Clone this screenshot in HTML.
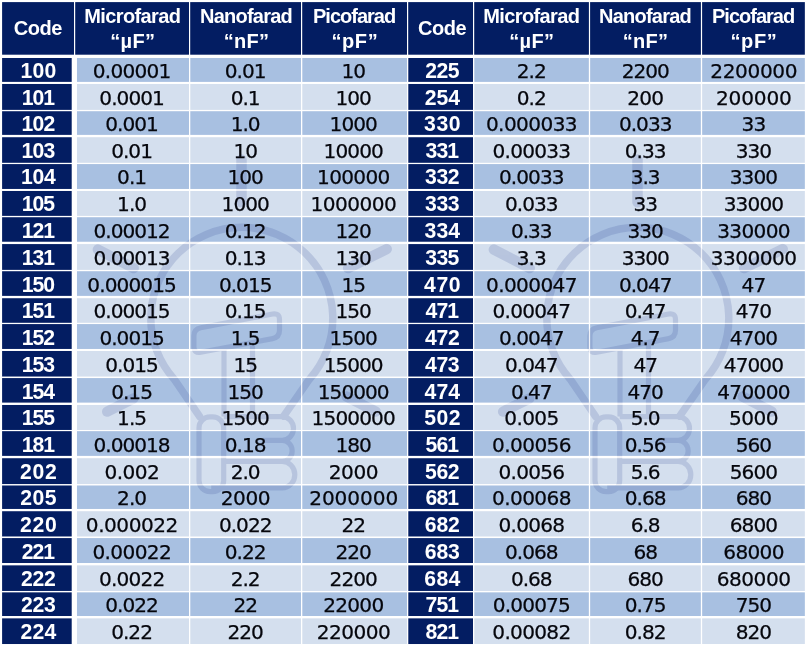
<!DOCTYPE html>
<html lang="en">
<head>
<meta charset="utf-8">
<title>Capacitor code conversion chart</title>
<style>
html,body{margin:0;padding:0;background:#fff;}
body{width:807px;height:646px;position:relative;overflow:hidden;font-family:"Liberation Sans",sans-serif;}
#bg{position:absolute;left:0;top:0;width:807px;height:646px;display:block;}
.t{position:absolute;text-align:center;white-space:nowrap;margin:0;padding:0;}
.h{color:#fff;font-weight:bold;font-size:20px;line-height:26px;}
.c{color:#fff;font-weight:bold;font-size:21.2px;line-height:26px;}
.d{color:#05060c;font-family:"DejaVu Sans","Liberation Sans",sans-serif;font-size:20.1px;line-height:26px;-webkit-text-stroke:0.25px #05060c;}
</style>
</head>
<body>

<svg id="bg" width="807" height="646" viewBox="0 0 807 646">
<rect x="0" y="0" width="807" height="646" fill="#ffffff"/>
<rect x="2.1" y="2.1" width="71.9" height="52.6" fill="#031d62"/>
<rect x="75.2" y="2.1" width="113.8" height="52.6" fill="#031d62"/>
<rect x="190.2" y="2.1" width="110.8" height="52.6" fill="#031d62"/>
<rect x="302.2" y="2.1" width="104.8" height="52.6" fill="#031d62"/>
<rect x="408.2" y="2.1" width="64.8" height="52.6" fill="#031d62"/>
<rect x="474.2" y="2.1" width="114.7" height="52.6" fill="#031d62"/>
<rect x="590.1" y="2.1" width="110.8" height="52.6" fill="#031d62"/>
<rect x="702.1" y="2.1" width="102.75" height="52.6" fill="#031d62"/>
<rect x="2.1" y="58" width="69.7" height="23.92" fill="#031d62"/>
<rect x="76.95" y="58" width="112.05" height="23.92" fill="#a8c0e1"/>
<rect x="190.2" y="58" width="110.8" height="23.92" fill="#a8c0e1"/>
<rect x="302.2" y="58" width="104.8" height="23.92" fill="#a8c0e1"/>
<rect x="408.2" y="58" width="64.8" height="23.92" fill="#031d62"/>
<rect x="474.2" y="58" width="114.7" height="23.92" fill="#a8c0e1"/>
<rect x="590.1" y="58" width="110.8" height="23.92" fill="#a8c0e1"/>
<rect x="702.1" y="58" width="102.75" height="23.92" fill="#a8c0e1"/>
<rect x="2.1" y="83.95" width="69.7" height="25.97" fill="#031d62"/>
<rect x="76.95" y="83.95" width="112.05" height="25.97" fill="#d4dfee"/>
<rect x="190.2" y="83.95" width="110.8" height="25.97" fill="#d4dfee"/>
<rect x="302.2" y="83.95" width="104.8" height="25.97" fill="#d4dfee"/>
<rect x="408.2" y="83.95" width="64.8" height="25.97" fill="#031d62"/>
<rect x="474.2" y="83.95" width="114.7" height="25.97" fill="#d4dfee"/>
<rect x="590.1" y="83.95" width="110.8" height="25.97" fill="#d4dfee"/>
<rect x="702.1" y="83.95" width="102.75" height="25.97" fill="#d4dfee"/>
<rect x="2.1" y="111.15" width="69.7" height="23.77" fill="#031d62"/>
<rect x="76.95" y="111.15" width="112.05" height="23.77" fill="#a8c0e1"/>
<rect x="190.2" y="111.15" width="110.8" height="23.77" fill="#a8c0e1"/>
<rect x="302.2" y="111.15" width="104.8" height="23.77" fill="#a8c0e1"/>
<rect x="408.2" y="111.15" width="64.8" height="23.77" fill="#031d62"/>
<rect x="474.2" y="111.15" width="114.7" height="23.77" fill="#a8c0e1"/>
<rect x="590.1" y="111.15" width="110.8" height="23.77" fill="#a8c0e1"/>
<rect x="702.1" y="111.15" width="102.75" height="23.77" fill="#a8c0e1"/>
<rect x="2.1" y="137.15" width="69.7" height="25.72" fill="#031d62"/>
<rect x="76.95" y="137.15" width="112.05" height="25.72" fill="#d4dfee"/>
<rect x="190.2" y="137.15" width="110.8" height="25.72" fill="#d4dfee"/>
<rect x="302.2" y="137.15" width="104.8" height="25.72" fill="#d4dfee"/>
<rect x="408.2" y="137.15" width="64.8" height="25.72" fill="#031d62"/>
<rect x="474.2" y="137.15" width="114.7" height="25.72" fill="#d4dfee"/>
<rect x="590.1" y="137.15" width="110.8" height="25.72" fill="#d4dfee"/>
<rect x="702.1" y="137.15" width="102.75" height="25.72" fill="#d4dfee"/>
<rect x="2.1" y="164.05" width="69.7" height="24.92" fill="#031d62"/>
<rect x="76.95" y="164.05" width="112.05" height="24.92" fill="#a8c0e1"/>
<rect x="190.2" y="164.05" width="110.8" height="24.92" fill="#a8c0e1"/>
<rect x="302.2" y="164.05" width="104.8" height="24.92" fill="#a8c0e1"/>
<rect x="408.2" y="164.05" width="64.8" height="24.92" fill="#031d62"/>
<rect x="474.2" y="164.05" width="114.7" height="24.92" fill="#a8c0e1"/>
<rect x="590.1" y="164.05" width="110.8" height="24.92" fill="#a8c0e1"/>
<rect x="702.1" y="164.05" width="102.75" height="24.92" fill="#a8c0e1"/>
<rect x="2.1" y="190.95" width="69.7" height="24.97" fill="#031d62"/>
<rect x="76.95" y="190.95" width="112.05" height="24.97" fill="#d4dfee"/>
<rect x="190.2" y="190.95" width="110.8" height="24.97" fill="#d4dfee"/>
<rect x="302.2" y="190.95" width="104.8" height="24.97" fill="#d4dfee"/>
<rect x="408.2" y="190.95" width="64.8" height="24.97" fill="#031d62"/>
<rect x="474.2" y="190.95" width="114.7" height="24.97" fill="#d4dfee"/>
<rect x="590.1" y="190.95" width="110.8" height="24.97" fill="#d4dfee"/>
<rect x="702.1" y="190.95" width="102.75" height="24.97" fill="#d4dfee"/>
<rect x="2.1" y="217.15" width="69.7" height="24.67" fill="#031d62"/>
<rect x="76.95" y="217.15" width="112.05" height="24.67" fill="#a8c0e1"/>
<rect x="190.2" y="217.15" width="110.8" height="24.67" fill="#a8c0e1"/>
<rect x="302.2" y="217.15" width="104.8" height="24.67" fill="#a8c0e1"/>
<rect x="408.2" y="217.15" width="64.8" height="24.67" fill="#031d62"/>
<rect x="474.2" y="217.15" width="114.7" height="24.67" fill="#a8c0e1"/>
<rect x="590.1" y="217.15" width="110.8" height="24.67" fill="#a8c0e1"/>
<rect x="702.1" y="217.15" width="102.75" height="24.67" fill="#a8c0e1"/>
<rect x="2.1" y="244.05" width="69.7" height="25.87" fill="#031d62"/>
<rect x="76.95" y="244.05" width="112.05" height="25.87" fill="#d4dfee"/>
<rect x="190.2" y="244.05" width="110.8" height="25.87" fill="#d4dfee"/>
<rect x="302.2" y="244.05" width="104.8" height="25.87" fill="#d4dfee"/>
<rect x="408.2" y="244.05" width="64.8" height="25.87" fill="#031d62"/>
<rect x="474.2" y="244.05" width="114.7" height="25.87" fill="#d4dfee"/>
<rect x="590.1" y="244.05" width="110.8" height="25.87" fill="#d4dfee"/>
<rect x="702.1" y="244.05" width="102.75" height="25.87" fill="#d4dfee"/>
<rect x="2.1" y="271.15" width="69.7" height="24.77" fill="#031d62"/>
<rect x="76.95" y="271.15" width="112.05" height="24.77" fill="#a8c0e1"/>
<rect x="190.2" y="271.15" width="110.8" height="24.77" fill="#a8c0e1"/>
<rect x="302.2" y="271.15" width="104.8" height="24.77" fill="#a8c0e1"/>
<rect x="408.2" y="271.15" width="64.8" height="24.77" fill="#031d62"/>
<rect x="474.2" y="271.15" width="114.7" height="24.77" fill="#a8c0e1"/>
<rect x="590.1" y="271.15" width="110.8" height="24.77" fill="#a8c0e1"/>
<rect x="702.1" y="271.15" width="102.75" height="24.77" fill="#a8c0e1"/>
<rect x="2.1" y="298.15" width="69.7" height="24.72" fill="#031d62"/>
<rect x="76.95" y="298.15" width="112.05" height="24.72" fill="#d4dfee"/>
<rect x="190.2" y="298.15" width="110.8" height="24.72" fill="#d4dfee"/>
<rect x="302.2" y="298.15" width="104.8" height="24.72" fill="#d4dfee"/>
<rect x="408.2" y="298.15" width="64.8" height="24.72" fill="#031d62"/>
<rect x="474.2" y="298.15" width="114.7" height="24.72" fill="#d4dfee"/>
<rect x="590.1" y="298.15" width="110.8" height="24.72" fill="#d4dfee"/>
<rect x="702.1" y="298.15" width="102.75" height="24.72" fill="#d4dfee"/>
<rect x="2.1" y="324.05" width="69.7" height="24.92" fill="#031d62"/>
<rect x="76.95" y="324.05" width="112.05" height="24.92" fill="#a8c0e1"/>
<rect x="190.2" y="324.05" width="110.8" height="24.92" fill="#a8c0e1"/>
<rect x="302.2" y="324.05" width="104.8" height="24.92" fill="#a8c0e1"/>
<rect x="408.2" y="324.05" width="64.8" height="24.92" fill="#031d62"/>
<rect x="474.2" y="324.05" width="114.7" height="24.92" fill="#a8c0e1"/>
<rect x="590.1" y="324.05" width="110.8" height="24.92" fill="#a8c0e1"/>
<rect x="702.1" y="324.05" width="102.75" height="24.92" fill="#a8c0e1"/>
<rect x="2.1" y="350.95" width="69.7" height="25.72" fill="#031d62"/>
<rect x="76.95" y="350.95" width="112.05" height="25.72" fill="#d4dfee"/>
<rect x="190.2" y="350.95" width="110.8" height="25.72" fill="#d4dfee"/>
<rect x="302.2" y="350.95" width="104.8" height="25.72" fill="#d4dfee"/>
<rect x="408.2" y="350.95" width="64.8" height="25.72" fill="#031d62"/>
<rect x="474.2" y="350.95" width="114.7" height="25.72" fill="#d4dfee"/>
<rect x="590.1" y="350.95" width="110.8" height="25.72" fill="#d4dfee"/>
<rect x="702.1" y="350.95" width="102.75" height="25.72" fill="#d4dfee"/>
<rect x="2.1" y="378.05" width="69.7" height="24.67" fill="#031d62"/>
<rect x="76.95" y="378.05" width="112.05" height="24.67" fill="#a8c0e1"/>
<rect x="190.2" y="378.05" width="110.8" height="24.67" fill="#a8c0e1"/>
<rect x="302.2" y="378.05" width="104.8" height="24.67" fill="#a8c0e1"/>
<rect x="408.2" y="378.05" width="64.8" height="24.67" fill="#031d62"/>
<rect x="474.2" y="378.05" width="114.7" height="24.67" fill="#a8c0e1"/>
<rect x="590.1" y="378.05" width="110.8" height="24.67" fill="#a8c0e1"/>
<rect x="702.1" y="378.05" width="102.75" height="24.67" fill="#a8c0e1"/>
<rect x="2.1" y="404.95" width="69.7" height="25.02" fill="#031d62"/>
<rect x="76.95" y="404.95" width="112.05" height="25.02" fill="#d4dfee"/>
<rect x="190.2" y="404.95" width="110.8" height="25.02" fill="#d4dfee"/>
<rect x="302.2" y="404.95" width="104.8" height="25.02" fill="#d4dfee"/>
<rect x="408.2" y="404.95" width="64.8" height="25.02" fill="#031d62"/>
<rect x="474.2" y="404.95" width="114.7" height="25.02" fill="#d4dfee"/>
<rect x="590.1" y="404.95" width="110.8" height="25.02" fill="#d4dfee"/>
<rect x="702.1" y="404.95" width="102.75" height="25.02" fill="#d4dfee"/>
<rect x="2.1" y="431.1" width="69.7" height="24.82" fill="#031d62"/>
<rect x="76.95" y="431.1" width="112.05" height="24.82" fill="#a8c0e1"/>
<rect x="190.2" y="431.1" width="110.8" height="24.82" fill="#a8c0e1"/>
<rect x="302.2" y="431.1" width="104.8" height="24.82" fill="#a8c0e1"/>
<rect x="408.2" y="431.1" width="64.8" height="24.82" fill="#031d62"/>
<rect x="474.2" y="431.1" width="114.7" height="24.82" fill="#a8c0e1"/>
<rect x="590.1" y="431.1" width="110.8" height="24.82" fill="#a8c0e1"/>
<rect x="702.1" y="431.1" width="102.75" height="24.82" fill="#a8c0e1"/>
<rect x="2.1" y="458.15" width="69.7" height="25.97" fill="#031d62"/>
<rect x="76.95" y="458.15" width="112.05" height="25.97" fill="#d4dfee"/>
<rect x="190.2" y="458.15" width="110.8" height="25.97" fill="#d4dfee"/>
<rect x="302.2" y="458.15" width="104.8" height="25.97" fill="#d4dfee"/>
<rect x="408.2" y="458.15" width="64.8" height="25.97" fill="#031d62"/>
<rect x="474.2" y="458.15" width="114.7" height="25.97" fill="#d4dfee"/>
<rect x="590.1" y="458.15" width="110.8" height="25.97" fill="#d4dfee"/>
<rect x="702.1" y="458.15" width="102.75" height="25.97" fill="#d4dfee"/>
<rect x="2.1" y="485.35" width="69.7" height="23.62" fill="#031d62"/>
<rect x="76.95" y="485.35" width="112.05" height="23.62" fill="#a8c0e1"/>
<rect x="190.2" y="485.35" width="110.8" height="23.62" fill="#a8c0e1"/>
<rect x="302.2" y="485.35" width="104.8" height="23.62" fill="#a8c0e1"/>
<rect x="408.2" y="485.35" width="64.8" height="23.62" fill="#031d62"/>
<rect x="474.2" y="485.35" width="114.7" height="23.62" fill="#a8c0e1"/>
<rect x="590.1" y="485.35" width="110.8" height="23.62" fill="#a8c0e1"/>
<rect x="702.1" y="485.35" width="102.75" height="23.62" fill="#a8c0e1"/>
<rect x="2.1" y="511.15" width="69.7" height="25.47" fill="#031d62"/>
<rect x="76.95" y="511.15" width="112.05" height="25.47" fill="#d4dfee"/>
<rect x="190.2" y="511.15" width="110.8" height="25.47" fill="#d4dfee"/>
<rect x="302.2" y="511.15" width="104.8" height="25.47" fill="#d4dfee"/>
<rect x="408.2" y="511.15" width="64.8" height="25.47" fill="#031d62"/>
<rect x="474.2" y="511.15" width="114.7" height="25.47" fill="#d4dfee"/>
<rect x="590.1" y="511.15" width="110.8" height="25.47" fill="#d4dfee"/>
<rect x="702.1" y="511.15" width="102.75" height="25.47" fill="#d4dfee"/>
<rect x="2.1" y="538.05" width="69.7" height="24.97" fill="#031d62"/>
<rect x="76.95" y="538.05" width="112.05" height="24.97" fill="#a8c0e1"/>
<rect x="190.2" y="538.05" width="110.8" height="24.97" fill="#a8c0e1"/>
<rect x="302.2" y="538.05" width="104.8" height="24.97" fill="#a8c0e1"/>
<rect x="408.2" y="538.05" width="64.8" height="24.97" fill="#031d62"/>
<rect x="474.2" y="538.05" width="114.7" height="24.97" fill="#a8c0e1"/>
<rect x="590.1" y="538.05" width="110.8" height="24.97" fill="#a8c0e1"/>
<rect x="702.1" y="538.05" width="102.75" height="24.97" fill="#a8c0e1"/>
<rect x="2.1" y="565.25" width="69.7" height="25.72" fill="#031d62"/>
<rect x="76.95" y="565.25" width="112.05" height="25.72" fill="#d4dfee"/>
<rect x="190.2" y="565.25" width="110.8" height="25.72" fill="#d4dfee"/>
<rect x="302.2" y="565.25" width="104.8" height="25.72" fill="#d4dfee"/>
<rect x="408.2" y="565.25" width="64.8" height="25.72" fill="#031d62"/>
<rect x="474.2" y="565.25" width="114.7" height="25.72" fill="#d4dfee"/>
<rect x="590.1" y="565.25" width="110.8" height="25.72" fill="#d4dfee"/>
<rect x="702.1" y="565.25" width="102.75" height="25.72" fill="#d4dfee"/>
<rect x="2.1" y="592.25" width="69.7" height="23.77" fill="#031d62"/>
<rect x="76.95" y="592.25" width="112.05" height="23.77" fill="#a8c0e1"/>
<rect x="190.2" y="592.25" width="110.8" height="23.77" fill="#a8c0e1"/>
<rect x="302.2" y="592.25" width="104.8" height="23.77" fill="#a8c0e1"/>
<rect x="408.2" y="592.25" width="64.8" height="23.77" fill="#031d62"/>
<rect x="474.2" y="592.25" width="114.7" height="23.77" fill="#a8c0e1"/>
<rect x="590.1" y="592.25" width="110.8" height="23.77" fill="#a8c0e1"/>
<rect x="702.1" y="592.25" width="102.75" height="23.77" fill="#a8c0e1"/>
<rect x="2.1" y="618.25" width="69.7" height="25.77" fill="#031d62"/>
<rect x="76.95" y="618.25" width="112.05" height="25.77" fill="#d4dfee"/>
<rect x="190.2" y="618.25" width="110.8" height="25.77" fill="#d4dfee"/>
<rect x="302.2" y="618.25" width="104.8" height="25.77" fill="#d4dfee"/>
<rect x="408.2" y="618.25" width="64.8" height="25.77" fill="#031d62"/>
<rect x="474.2" y="618.25" width="114.7" height="25.77" fill="#d4dfee"/>
<rect x="590.1" y="618.25" width="110.8" height="25.77" fill="#d4dfee"/>
<rect x="702.1" y="618.25" width="102.75" height="25.77" fill="#d4dfee"/>
<g fill="none" stroke="#283f8e" opacity="0.16">
<path d="M199.7 416.6 L174.17 379.19 A91 91 0 1 1 309.43 379.19 L283.7 416.1" fill="none" stroke-width="7.5" stroke-linejoin="round" stroke-linecap="round"/>
<line x1="241.5" y1="159.6" x2="241.5" y2="202.2" stroke-width="10.5" stroke-linecap="round"/>
<line x1="97.9" y1="249.6" x2="133.7" y2="268.1" stroke-width="10.5" stroke-linecap="round"/>
<line x1="386.7" y1="249.1" x2="348.2" y2="268.1" stroke-width="10.5" stroke-linecap="round"/>
<line x1="107.2" y1="411.6" x2="133.2" y2="398.6" stroke-width="10.5" stroke-linecap="round"/>
<line x1="375.7" y1="411.6" x2="346.7" y2="396.6" stroke-width="10.5" stroke-linecap="round"/>
<path d="M193.9 336Q193.9 329 200.78 327.69L272.62 314.01Q279.5 312.7 279.5 319.7L279.5 330.3Q279.5 337.3 272.62 338.61L200.78 352.29Q193.9 353.6 193.9 346.6Z" fill="none" stroke-width="5.2"/>
<path d="M224 349.1 V416.6 M252.5 343.6 V416.6" fill="none" stroke-width="5.2"/>
<rect x="199" y="416.9" width="24.7" height="74.7" rx="11" ry="11" fill="none" stroke-width="5.2"/>
<path d="M223.7 416.6 H282.2 A11.31 11.9 0 0 1 282.2 440.4 A9.97 10.5 0 0 1 282.2 461.4 A12.59 13.25 0 0 1 282.2 487.9 H211.2 M263.2 440.4 H282.2 M223.7 461.4 H282.2" fill="none" stroke-width="5.2" stroke-linejoin="round"/>
</g>
<g fill="none" stroke="#283f8e" opacity="0.16" transform="translate(396 0)">
<path d="M199.7 416.6 L174.17 379.19 A91 91 0 1 1 309.43 379.19 L283.7 416.1" fill="none" stroke-width="7.5" stroke-linejoin="round" stroke-linecap="round"/>
<line x1="241.5" y1="159.6" x2="241.5" y2="202.2" stroke-width="10.5" stroke-linecap="round"/>
<line x1="97.9" y1="249.6" x2="133.7" y2="268.1" stroke-width="10.5" stroke-linecap="round"/>
<line x1="386.7" y1="249.1" x2="348.2" y2="268.1" stroke-width="10.5" stroke-linecap="round"/>
<line x1="107.2" y1="411.6" x2="133.2" y2="398.6" stroke-width="10.5" stroke-linecap="round"/>
<line x1="375.7" y1="411.6" x2="346.7" y2="396.6" stroke-width="10.5" stroke-linecap="round"/>
<path d="M193.9 336Q193.9 329 200.78 327.69L272.62 314.01Q279.5 312.7 279.5 319.7L279.5 330.3Q279.5 337.3 272.62 338.61L200.78 352.29Q193.9 353.6 193.9 346.6Z" fill="none" stroke-width="5.2"/>
<path d="M224 349.1 V416.6 M252.5 343.6 V416.6" fill="none" stroke-width="5.2"/>
<rect x="199" y="416.9" width="24.7" height="74.7" rx="11" ry="11" fill="none" stroke-width="5.2"/>
<path d="M223.7 416.6 H282.2 A11.31 11.9 0 0 1 282.2 440.4 A9.97 10.5 0 0 1 282.2 461.4 A12.59 13.25 0 0 1 282.2 487.9 H211.2 M263.2 440.4 H282.2 M223.7 461.4 H282.2" fill="none" stroke-width="5.2" stroke-linejoin="round"/>
</g>
<rect x="0" y="81.92" width="807" height="2.03" fill="#ffffff" opacity="0.6"/>
<rect x="0" y="109.92" width="807" height="1.23" fill="#ffffff" opacity="0.6"/>
<rect x="0" y="134.92" width="807" height="2.23" fill="#ffffff" opacity="0.6"/>
<rect x="0" y="162.87" width="807" height="1.18" fill="#ffffff" opacity="0.6"/>
<rect x="0" y="188.97" width="807" height="1.98" fill="#ffffff" opacity="0.6"/>
<rect x="0" y="215.92" width="807" height="1.23" fill="#ffffff" opacity="0.6"/>
<rect x="0" y="241.82" width="807" height="2.23" fill="#ffffff" opacity="0.6"/>
<rect x="0" y="269.92" width="807" height="1.23" fill="#ffffff" opacity="0.6"/>
<rect x="0" y="295.92" width="807" height="2.23" fill="#ffffff" opacity="0.6"/>
<rect x="0" y="322.87" width="807" height="1.18" fill="#ffffff" opacity="0.6"/>
<rect x="0" y="348.97" width="807" height="1.98" fill="#ffffff" opacity="0.6"/>
<rect x="0" y="376.67" width="807" height="1.38" fill="#ffffff" opacity="0.6"/>
<rect x="0" y="402.72" width="807" height="2.23" fill="#ffffff" opacity="0.6"/>
<rect x="0" y="429.97" width="807" height="1.13" fill="#ffffff" opacity="0.6"/>
<rect x="0" y="455.92" width="807" height="2.23" fill="#ffffff" opacity="0.6"/>
<rect x="0" y="484.12" width="807" height="1.23" fill="#ffffff" opacity="0.6"/>
<rect x="0" y="508.97" width="807" height="2.18" fill="#ffffff" opacity="0.6"/>
<rect x="0" y="536.62" width="807" height="1.43" fill="#ffffff" opacity="0.6"/>
<rect x="0" y="563.02" width="807" height="2.23" fill="#ffffff" opacity="0.6"/>
<rect x="0" y="590.97" width="807" height="1.28" fill="#ffffff" opacity="0.6"/>
<rect x="0" y="616.02" width="807" height="2.23" fill="#ffffff" opacity="0.6"/>
<rect x="71.8" y="55" width="5.15" height="591" fill="#ffffff" opacity="0.6"/>
<rect x="189" y="55" width="1.2" height="591" fill="#ffffff" opacity="0.6"/>
<rect x="301" y="55" width="1.2" height="591" fill="#ffffff" opacity="0.6"/>
<rect x="407" y="55" width="1.2" height="591" fill="#ffffff" opacity="0.6"/>
<rect x="473" y="55" width="1.2" height="591" fill="#ffffff" opacity="0.6"/>
<rect x="588.9" y="55" width="1.2" height="591" fill="#ffffff" opacity="0.6"/>
<rect x="700.9" y="55" width="1.2" height="591" fill="#ffffff" opacity="0.6"/>
</svg>


<div class="head">
<div class="t h" style="left:2.1px;top:15px;width:71.8px;letter-spacing:-0.47px;text-indent:-0.47px">Code</div>
<div class="t h" style="left:76.3px;top:3px;width:112.7px;letter-spacing:-0.62px;text-indent:-0.62px">Microfarad</div>
<div class="t h" style="left:76.3px;top:28px;width:112.7px;letter-spacing:0.33px;text-indent:0.33px">“µF”</div>
<div class="t h" style="left:191.8px;top:3px;width:109.2px;letter-spacing:-0.76px;text-indent:-0.76px">Nanofarad</div>
<div class="t h" style="left:191.8px;top:28px;width:109.2px;letter-spacing:0.23px;text-indent:0.23px">“nF”</div>
<div class="t h" style="left:302.2px;top:3px;width:104.8px;letter-spacing:-0.99px;text-indent:-0.99px">Picofarad</div>
<div class="t h" style="left:302.2px;top:28px;width:104.8px;letter-spacing:0.6px;text-indent:0.6px">“pF”</div>
<div class="t h" style="left:411.5px;top:15px;width:61.5px;letter-spacing:-0.47px;text-indent:-0.47px">Code</div>
<div class="t h" style="left:474.3px;top:3px;width:114.6px;letter-spacing:-0.62px;text-indent:-0.62px">Microfarad</div>
<div class="t h" style="left:474.3px;top:28px;width:114.6px;letter-spacing:0.33px;text-indent:0.33px">“µF”</div>
<div class="t h" style="left:590.1px;top:3px;width:110.6px;letter-spacing:-0.76px;text-indent:-0.76px">Nanofarad</div>
<div class="t h" style="left:590.1px;top:28px;width:110.6px;letter-spacing:0.23px;text-indent:0.23px">“nF”</div>
<div class="t h" style="left:702.35px;top:3px;width:102.5px;letter-spacing:-0.99px;text-indent:-0.99px">Picofarad</div>
<div class="t h" style="left:702.35px;top:28px;width:102.5px;letter-spacing:0.6px;text-indent:0.6px">“pF”</div>
</div>
<div class="row">
<div class="t c" style="left:2.8px;top:58px;width:71.2px;letter-spacing:0.25px;text-indent:0.25px">100</div>
<div class="t d" style="left:75.2px;top:58px;width:113.8px;letter-spacing:-0.74px;text-indent:-0.74px">0.00001</div>
<div class="t d" style="left:190.4px;top:58px;width:110.6px;letter-spacing:-1px;text-indent:-1px">0.01</div>
<div class="t d" style="left:302.2px;top:58px;width:103px;letter-spacing:-1px;text-indent:-1px">10</div>
<div class="t c" style="left:411.6px;top:58px;width:61.4px;letter-spacing:-0.52px;text-indent:-0.52px">225</div>
<div class="t d" style="left:474.7px;top:58px;width:114.2px;letter-spacing:-1px;text-indent:-1px">2.2</div>
<div class="t d" style="left:590.5px;top:58px;width:110.4px;letter-spacing:-1px;text-indent:-1px">2200</div>
<div class="t d" style="left:702.95px;top:58px;width:101.9px;letter-spacing:-0.39px;text-indent:-0.39px">2200000</div>
</div>
<div class="row">
<div class="t c" style="left:2.8px;top:85px;width:71.2px;letter-spacing:-1px;text-indent:-1px">101</div>
<div class="t d" style="left:75.2px;top:85px;width:113.8px;letter-spacing:-0.94px;text-indent:-0.94px">0.0001</div>
<div class="t d" style="left:190.4px;top:85px;width:110.6px;letter-spacing:-1px;text-indent:-1px">0.1</div>
<div class="t d" style="left:302.2px;top:85px;width:103px;letter-spacing:-1px;text-indent:-1px">100</div>
<div class="t c" style="left:411.6px;top:85px;width:61.4px;letter-spacing:-0.04px;text-indent:-0.04px">254</div>
<div class="t d" style="left:474.7px;top:85px;width:114.2px;letter-spacing:-1px;text-indent:-1px">0.2</div>
<div class="t d" style="left:590.5px;top:85px;width:110.4px;letter-spacing:-0.75px;text-indent:-0.75px">200</div>
<div class="t d" style="left:702.95px;top:85px;width:101.9px;letter-spacing:-0.14px;text-indent:-0.14px">200000</div>
</div>
<div class="row">
<div class="t c" style="left:2.8px;top:111px;width:71.2px;letter-spacing:-0.74px;text-indent:-0.74px">102</div>
<div class="t d" style="left:75.2px;top:111px;width:113.8px;letter-spacing:-1px;text-indent:-1px">0.001</div>
<div class="t d" style="left:190.4px;top:111px;width:110.6px;letter-spacing:-1px;text-indent:-1px">1.0</div>
<div class="t d" style="left:302.2px;top:111px;width:103px;letter-spacing:-1px;text-indent:-1px">1000</div>
<div class="t c" style="left:411.6px;top:111px;width:61.4px;letter-spacing:0.65px;text-indent:0.65px">330</div>
<div class="t d" style="left:474.7px;top:111px;width:114.2px;letter-spacing:-0.59px;text-indent:-0.59px">0.000033</div>
<div class="t d" style="left:590.5px;top:111px;width:110.4px;letter-spacing:-1px;text-indent:-1px">0.033</div>
<div class="t d" style="left:702.95px;top:111px;width:101.9px;letter-spacing:-1px;text-indent:-1px">33</div>
</div>
<div class="row">
<div class="t c" style="left:2.8px;top:138px;width:71.2px;letter-spacing:-0.75px;text-indent:-0.75px">103</div>
<div class="t d" style="left:75.2px;top:138px;width:113.8px;letter-spacing:-1px;text-indent:-1px">0.01</div>
<div class="t d" style="left:190.4px;top:138px;width:110.6px;letter-spacing:-1px;text-indent:-1px">10</div>
<div class="t d" style="left:302.2px;top:138px;width:103px;letter-spacing:-0.91px;text-indent:-0.91px">10000</div>
<div class="t c" style="left:411.6px;top:138px;width:61.4px;letter-spacing:-1px;text-indent:-1px">331</div>
<div class="t d" style="left:474.7px;top:138px;width:114.2px;letter-spacing:-0.73px;text-indent:-0.73px">0.00033</div>
<div class="t d" style="left:590.5px;top:138px;width:110.4px;letter-spacing:-1px;text-indent:-1px">0.33</div>
<div class="t d" style="left:702.95px;top:138px;width:101.9px;letter-spacing:-1px;text-indent:-1px">330</div>
</div>
<div class="row">
<div class="t c" style="left:2.8px;top:164px;width:71.2px;letter-spacing:-0.25px;text-indent:-0.25px">104</div>
<div class="t d" style="left:75.2px;top:164px;width:113.8px;letter-spacing:-1px;text-indent:-1px">0.1</div>
<div class="t d" style="left:190.4px;top:164px;width:110.6px;letter-spacing:-1px;text-indent:-1px">100</div>
<div class="t d" style="left:302.2px;top:164px;width:103px;letter-spacing:-0.67px;text-indent:-0.67px">100000</div>
<div class="t c" style="left:411.6px;top:164px;width:61.4px;letter-spacing:-0.34px;text-indent:-0.34px">332</div>
<div class="t d" style="left:474.7px;top:164px;width:114.2px;letter-spacing:-0.93px;text-indent:-0.93px">0.0033</div>
<div class="t d" style="left:590.5px;top:164px;width:110.4px;letter-spacing:-1px;text-indent:-1px">3.3</div>
<div class="t d" style="left:702.95px;top:164px;width:101.9px;letter-spacing:-1px;text-indent:-1px">3300</div>
</div>
<div class="row">
<div class="t c" style="left:2.8px;top:191px;width:71.2px;letter-spacing:-0.95px;text-indent:-0.95px">105</div>
<div class="t d" style="left:75.2px;top:191px;width:113.8px;letter-spacing:-1px;text-indent:-1px">1.0</div>
<div class="t d" style="left:190.4px;top:191px;width:110.6px;letter-spacing:-1px;text-indent:-1px">1000</div>
<div class="t d" style="left:302.2px;top:191px;width:103px;letter-spacing:-0.52px;text-indent:-0.52px">1000000</div>
<div class="t c" style="left:411.6px;top:191px;width:61.4px;letter-spacing:-0.35px;text-indent:-0.35px">333</div>
<div class="t d" style="left:474.7px;top:191px;width:114.2px;letter-spacing:-1px;text-indent:-1px">0.033</div>
<div class="t d" style="left:590.5px;top:191px;width:110.4px;letter-spacing:-1px;text-indent:-1px">33</div>
<div class="t d" style="left:702.95px;top:191px;width:101.9px;letter-spacing:-0.89px;text-indent:-0.89px">33000</div>
</div>
<div class="row">
<div class="t c" style="left:2.8px;top:218px;width:71.2px;letter-spacing:-1px;text-indent:-1px">121</div>
<div class="t d" style="left:75.2px;top:218px;width:113.8px;letter-spacing:-1px;text-indent:-1px">0.00012</div>
<div class="t d" style="left:190.4px;top:218px;width:110.6px;letter-spacing:-1px;text-indent:-1px">0.12</div>
<div class="t d" style="left:302.2px;top:218px;width:103px;letter-spacing:-1px;text-indent:-1px">120</div>
<div class="t c" style="left:411.6px;top:218px;width:61.4px;letter-spacing:0.15px;text-indent:0.15px">334</div>
<div class="t d" style="left:474.7px;top:218px;width:114.2px;letter-spacing:-1px;text-indent:-1px">0.33</div>
<div class="t d" style="left:590.5px;top:218px;width:110.4px;letter-spacing:-1px;text-indent:-1px">330</div>
<div class="t d" style="left:702.95px;top:218px;width:101.9px;letter-spacing:-0.66px;text-indent:-0.66px">330000</div>
</div>
<div class="row">
<div class="t c" style="left:2.8px;top:245px;width:71.2px;letter-spacing:-1px;text-indent:-1px">131</div>
<div class="t d" style="left:75.2px;top:245px;width:113.8px;letter-spacing:-1px;text-indent:-1px">0.00013</div>
<div class="t d" style="left:190.4px;top:245px;width:110.6px;letter-spacing:-1px;text-indent:-1px">0.13</div>
<div class="t d" style="left:302.2px;top:245px;width:103px;letter-spacing:-1px;text-indent:-1px">130</div>
<div class="t c" style="left:411.6px;top:245px;width:61.4px;letter-spacing:-0.55px;text-indent:-0.55px">335</div>
<div class="t d" style="left:474.7px;top:245px;width:114.2px;letter-spacing:-1px;text-indent:-1px">3.3</div>
<div class="t d" style="left:590.5px;top:245px;width:110.4px;letter-spacing:-1px;text-indent:-1px">3300</div>
<div class="t d" style="left:702.95px;top:245px;width:101.9px;letter-spacing:-0.51px;text-indent:-0.51px">3300000</div>
</div>
<div class="row">
<div class="t c" style="left:2.8px;top:272px;width:71.2px;letter-spacing:-0.95px;text-indent:-0.95px">150</div>
<div class="t d" style="left:75.2px;top:272px;width:113.8px;letter-spacing:-0.92px;text-indent:-0.92px">0.000015</div>
<div class="t d" style="left:190.4px;top:272px;width:110.6px;letter-spacing:-1px;text-indent:-1px">0.015</div>
<div class="t d" style="left:302.2px;top:272px;width:103px;letter-spacing:-1px;text-indent:-1px">15</div>
<div class="t c" style="left:411.6px;top:272px;width:61.4px;letter-spacing:0.7px;text-indent:0.7px">470</div>
<div class="t d" style="left:474.7px;top:272px;width:114.2px;letter-spacing:-0.61px;text-indent:-0.61px">0.000047</div>
<div class="t d" style="left:590.5px;top:272px;width:110.4px;letter-spacing:-1px;text-indent:-1px">0.047</div>
<div class="t d" style="left:702.95px;top:272px;width:101.9px;letter-spacing:-1px;text-indent:-1px">47</div>
</div>
<div class="row">
<div class="t c" style="left:2.8px;top:298px;width:71.2px;letter-spacing:-1px;text-indent:-1px">151</div>
<div class="t d" style="left:75.2px;top:298px;width:113.8px;letter-spacing:-1px;text-indent:-1px">0.00015</div>
<div class="t d" style="left:190.4px;top:298px;width:110.6px;letter-spacing:-1px;text-indent:-1px">0.15</div>
<div class="t d" style="left:302.2px;top:298px;width:103px;letter-spacing:-1px;text-indent:-1px">150</div>
<div class="t c" style="left:411.6px;top:298px;width:61.4px;letter-spacing:-1px;text-indent:-1px">471</div>
<div class="t d" style="left:474.7px;top:298px;width:114.2px;letter-spacing:-0.75px;text-indent:-0.75px">0.00047</div>
<div class="t d" style="left:590.5px;top:298px;width:110.4px;letter-spacing:-1px;text-indent:-1px">0.47</div>
<div class="t d" style="left:702.95px;top:298px;width:101.9px;letter-spacing:-1px;text-indent:-1px">470</div>
</div>
<div class="row">
<div class="t c" style="left:2.8px;top:325px;width:71.2px;letter-spacing:-1px;text-indent:-1px">152</div>
<div class="t d" style="left:75.2px;top:325px;width:113.8px;letter-spacing:-1px;text-indent:-1px">0.0015</div>
<div class="t d" style="left:190.4px;top:325px;width:110.6px;letter-spacing:-1px;text-indent:-1px">1.5</div>
<div class="t d" style="left:302.2px;top:325px;width:103px;letter-spacing:-1px;text-indent:-1px">1500</div>
<div class="t c" style="left:411.6px;top:325px;width:61.4px;letter-spacing:-0.29px;text-indent:-0.29px">472</div>
<div class="t d" style="left:474.7px;top:325px;width:114.2px;letter-spacing:-0.95px;text-indent:-0.95px">0.0047</div>
<div class="t d" style="left:590.5px;top:325px;width:110.4px;letter-spacing:-1px;text-indent:-1px">4.7</div>
<div class="t d" style="left:702.95px;top:325px;width:101.9px;letter-spacing:-1px;text-indent:-1px">4700</div>
</div>
<div class="row">
<div class="t c" style="left:2.8px;top:352px;width:71.2px;letter-spacing:-1px;text-indent:-1px">153</div>
<div class="t d" style="left:75.2px;top:352px;width:113.8px;letter-spacing:-1px;text-indent:-1px">0.015</div>
<div class="t d" style="left:190.4px;top:352px;width:110.6px;letter-spacing:-1px;text-indent:-1px">15</div>
<div class="t d" style="left:302.2px;top:352px;width:103px;letter-spacing:-1px;text-indent:-1px">15000</div>
<div class="t c" style="left:411.6px;top:352px;width:61.4px;letter-spacing:-0.3px;text-indent:-0.3px">473</div>
<div class="t d" style="left:474.7px;top:352px;width:114.2px;letter-spacing:-1px;text-indent:-1px">0.047</div>
<div class="t d" style="left:590.5px;top:352px;width:110.4px;letter-spacing:-1px;text-indent:-1px">47</div>
<div class="t d" style="left:702.95px;top:352px;width:101.9px;letter-spacing:-0.92px;text-indent:-0.92px">47000</div>
</div>
<div class="row">
<div class="t c" style="left:2.8px;top:379px;width:71.2px;letter-spacing:-1px;text-indent:-1px">154</div>
<div class="t d" style="left:75.2px;top:379px;width:113.8px;letter-spacing:-1px;text-indent:-1px">0.15</div>
<div class="t d" style="left:190.4px;top:379px;width:110.6px;letter-spacing:-1px;text-indent:-1px">150</div>
<div class="t d" style="left:302.2px;top:379px;width:103px;letter-spacing:-1px;text-indent:-1px">150000</div>
<div class="t c" style="left:411.6px;top:379px;width:61.4px;letter-spacing:0.2px;text-indent:0.2px">474</div>
<div class="t d" style="left:474.7px;top:379px;width:114.2px;letter-spacing:-1px;text-indent:-1px">0.47</div>
<div class="t d" style="left:590.5px;top:379px;width:110.4px;letter-spacing:-1px;text-indent:-1px">470</div>
<div class="t d" style="left:702.95px;top:379px;width:101.9px;letter-spacing:-0.68px;text-indent:-0.68px">470000</div>
</div>
<div class="row">
<div class="t c" style="left:2.8px;top:405px;width:71.2px;letter-spacing:-1px;text-indent:-1px">155</div>
<div class="t d" style="left:75.2px;top:405px;width:113.8px;letter-spacing:-1px;text-indent:-1px">1.5</div>
<div class="t d" style="left:190.4px;top:405px;width:110.6px;letter-spacing:-1px;text-indent:-1px">1500</div>
<div class="t d" style="left:302.2px;top:405px;width:103px;letter-spacing:-0.89px;text-indent:-0.89px">1500000</div>
<div class="t c" style="left:411.6px;top:405px;width:61.4px;letter-spacing:0.46px;text-indent:0.46px">502</div>
<div class="t d" style="left:474.7px;top:405px;width:114.2px;letter-spacing:-0.67px;text-indent:-0.67px">0.005</div>
<div class="t d" style="left:590.5px;top:405px;width:110.4px;letter-spacing:-1px;text-indent:-1px">5.0</div>
<div class="t d" style="left:702.95px;top:405px;width:101.9px;letter-spacing:-0.53px;text-indent:-0.53px">5000</div>
</div>
<div class="row">
<div class="t c" style="left:2.8px;top:432px;width:71.2px;letter-spacing:-1px;text-indent:-1px">181</div>
<div class="t d" style="left:75.2px;top:432px;width:113.8px;letter-spacing:-1px;text-indent:-1px">0.00018</div>
<div class="t d" style="left:190.4px;top:432px;width:110.6px;letter-spacing:-1px;text-indent:-1px">0.18</div>
<div class="t d" style="left:302.2px;top:432px;width:103px;letter-spacing:-1px;text-indent:-1px">180</div>
<div class="t c" style="left:411.6px;top:432px;width:61.4px;letter-spacing:-1px;text-indent:-1px">561</div>
<div class="t d" style="left:474.7px;top:432px;width:114.2px;letter-spacing:-0.57px;text-indent:-0.57px">0.00056</div>
<div class="t d" style="left:590.5px;top:432px;width:110.4px;letter-spacing:-1px;text-indent:-1px">0.56</div>
<div class="t d" style="left:702.95px;top:432px;width:101.9px;letter-spacing:-1px;text-indent:-1px">560</div>
</div>
<div class="row">
<div class="t c" style="left:2.8px;top:459px;width:71.2px;letter-spacing:0.68px;text-indent:0.68px">202</div>
<div class="t d" style="left:75.2px;top:459px;width:113.8px;letter-spacing:-0.58px;text-indent:-0.58px">0.002</div>
<div class="t d" style="left:190.4px;top:459px;width:110.6px;letter-spacing:-1px;text-indent:-1px">2.0</div>
<div class="t d" style="left:302.2px;top:459px;width:103px;letter-spacing:-0.41px;text-indent:-0.41px">2000</div>
<div class="t c" style="left:411.6px;top:459px;width:61.4px;letter-spacing:-0.39px;text-indent:-0.39px">562</div>
<div class="t d" style="left:474.7px;top:459px;width:114.2px;letter-spacing:-0.73px;text-indent:-0.73px">0.0056</div>
<div class="t d" style="left:590.5px;top:459px;width:110.4px;letter-spacing:-1px;text-indent:-1px">5.6</div>
<div class="t d" style="left:702.95px;top:459px;width:101.9px;letter-spacing:-0.95px;text-indent:-0.95px">5600</div>
</div>
<div class="row">
<div class="t c" style="left:2.8px;top:485px;width:71.2px;letter-spacing:0.46px;text-indent:0.46px">205</div>
<div class="t d" style="left:75.2px;top:485px;width:113.8px;letter-spacing:-1px;text-indent:-1px">2.0</div>
<div class="t d" style="left:190.4px;top:485px;width:110.6px;letter-spacing:-0.41px;text-indent:-0.41px">2000</div>
<div class="t d" style="left:302.2px;top:485px;width:103px;letter-spacing:-0.08px;text-indent:-0.08px">2000000</div>
<div class="t c" style="left:411.6px;top:485px;width:61.4px;letter-spacing:-1px;text-indent:-1px">681</div>
<div class="t d" style="left:474.7px;top:485px;width:114.2px;letter-spacing:-0.6px;text-indent:-0.6px">0.00068</div>
<div class="t d" style="left:590.5px;top:485px;width:110.4px;letter-spacing:-1px;text-indent:-1px">0.68</div>
<div class="t d" style="left:702.95px;top:485px;width:101.9px;letter-spacing:-1px;text-indent:-1px">680</div>
</div>
<div class="row">
<div class="t c" style="left:2.8px;top:512px;width:71.2px;letter-spacing:0.68px;text-indent:0.68px">220</div>
<div class="t d" style="left:75.2px;top:512px;width:113.8px;letter-spacing:-0.49px;text-indent:-0.49px">0.000022</div>
<div class="t d" style="left:190.4px;top:512px;width:110.6px;letter-spacing:-1px;text-indent:-1px">0.022</div>
<div class="t d" style="left:302.2px;top:512px;width:103px;letter-spacing:-1px;text-indent:-1px">22</div>
<div class="t c" style="left:411.6px;top:512px;width:61.4px;letter-spacing:-0.19px;text-indent:-0.19px">682</div>
<div class="t d" style="left:474.7px;top:512px;width:114.2px;letter-spacing:-0.77px;text-indent:-0.77px">0.0068</div>
<div class="t d" style="left:590.5px;top:512px;width:110.4px;letter-spacing:-1px;text-indent:-1px">6.8</div>
<div class="t d" style="left:702.95px;top:512px;width:101.9px;letter-spacing:-1px;text-indent:-1px">6800</div>
</div>
<div class="row">
<div class="t c" style="left:2.8px;top:539px;width:71.2px;letter-spacing:-1px;text-indent:-1px">221</div>
<div class="t d" style="left:75.2px;top:539px;width:113.8px;letter-spacing:-0.62px;text-indent:-0.62px">0.00022</div>
<div class="t d" style="left:190.4px;top:539px;width:110.6px;letter-spacing:-1px;text-indent:-1px">0.22</div>
<div class="t d" style="left:302.2px;top:539px;width:103px;letter-spacing:-1px;text-indent:-1px">220</div>
<div class="t c" style="left:411.6px;top:539px;width:61.4px;letter-spacing:-0.2px;text-indent:-0.2px">683</div>
<div class="t d" style="left:474.7px;top:539px;width:114.2px;letter-spacing:-1px;text-indent:-1px">0.068</div>
<div class="t d" style="left:590.5px;top:539px;width:110.4px;letter-spacing:-1px;text-indent:-1px">68</div>
<div class="t d" style="left:702.95px;top:539px;width:101.9px;letter-spacing:-0.69px;text-indent:-0.69px">68000</div>
</div>
<div class="row">
<div class="t c" style="left:2.8px;top:566px;width:71.2px;letter-spacing:-0.31px;text-indent:-0.31px">222</div>
<div class="t d" style="left:75.2px;top:566px;width:113.8px;letter-spacing:-0.79px;text-indent:-0.79px">0.0022</div>
<div class="t d" style="left:190.4px;top:566px;width:110.6px;letter-spacing:-1px;text-indent:-1px">2.2</div>
<div class="t d" style="left:302.2px;top:566px;width:103px;letter-spacing:-1px;text-indent:-1px">2200</div>
<div class="t c" style="left:411.6px;top:566px;width:61.4px;letter-spacing:0.3px;text-indent:0.3px">684</div>
<div class="t d" style="left:474.7px;top:566px;width:114.2px;letter-spacing:-1px;text-indent:-1px">0.68</div>
<div class="t d" style="left:590.5px;top:566px;width:110.4px;letter-spacing:-1px;text-indent:-1px">680</div>
<div class="t d" style="left:702.95px;top:566px;width:101.9px;letter-spacing:-0.5px;text-indent:-0.5px">680000</div>
</div>
<div class="row">
<div class="t c" style="left:2.8px;top:592px;width:71.2px;letter-spacing:-0.32px;text-indent:-0.32px">223</div>
<div class="t d" style="left:75.2px;top:592px;width:113.8px;letter-spacing:-1px;text-indent:-1px">0.022</div>
<div class="t d" style="left:190.4px;top:592px;width:110.6px;letter-spacing:-1px;text-indent:-1px">22</div>
<div class="t d" style="left:302.2px;top:592px;width:103px;letter-spacing:-0.72px;text-indent:-0.72px">22000</div>
<div class="t c" style="left:411.6px;top:592px;width:61.4px;letter-spacing:-1px;text-indent:-1px">751</div>
<div class="t d" style="left:474.7px;top:592px;width:114.2px;letter-spacing:-0.82px;text-indent:-0.82px">0.00075</div>
<div class="t d" style="left:590.5px;top:592px;width:110.4px;letter-spacing:-1px;text-indent:-1px">0.75</div>
<div class="t d" style="left:702.95px;top:592px;width:101.9px;letter-spacing:-1px;text-indent:-1px">750</div>
</div>
<div class="row">
<div class="t c" style="left:2.8px;top:619px;width:71.2px;letter-spacing:0.18px;text-indent:0.18px">224</div>
<div class="t d" style="left:75.2px;top:619px;width:113.8px;letter-spacing:-1px;text-indent:-1px">0.22</div>
<div class="t d" style="left:190.4px;top:619px;width:110.6px;letter-spacing:-1px;text-indent:-1px">220</div>
<div class="t d" style="left:302.2px;top:619px;width:103px;letter-spacing:-0.52px;text-indent:-0.52px">220000</div>
<div class="t c" style="left:411.6px;top:619px;width:61.4px;letter-spacing:-1px;text-indent:-1px">821</div>
<div class="t d" style="left:474.7px;top:619px;width:114.2px;letter-spacing:-0.71px;text-indent:-0.71px">0.00082</div>
<div class="t d" style="left:590.5px;top:619px;width:110.4px;letter-spacing:-1px;text-indent:-1px">0.82</div>
<div class="t d" style="left:702.95px;top:619px;width:101.9px;letter-spacing:-1px;text-indent:-1px">820</div>
</div>
</body>
</html>
